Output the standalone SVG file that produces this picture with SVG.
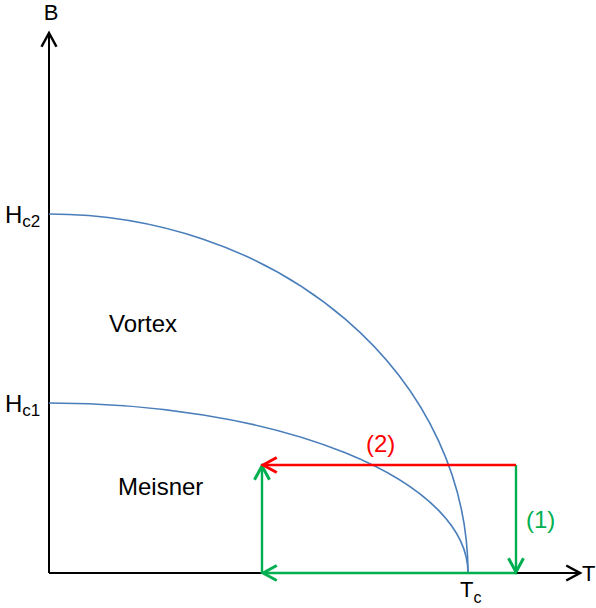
<svg xmlns="http://www.w3.org/2000/svg" width="596" height="608" viewBox="0 0 596 608">
<defs>
<style>
.lbl{font-family:"Liberation Sans",Arial,sans-serif;font-size:24px;fill:#000}
.ax{stroke:#000;stroke-width:2;fill:none}
.curve{stroke:#4a7ebb;stroke-width:1.6;fill:none}
.g{stroke:#00b050;stroke-width:2.4;fill:none}
.r{stroke:#ff0000;stroke-width:2.4;fill:none}
</style>
<marker id="ak" markerUnits="userSpaceOnUse" markerWidth="20" markerHeight="20" viewBox="-13 -8 15 16" refX="0" refY="0" orient="auto"><path d="M-11,-6 L0,0 L-11,6" fill="none" stroke="#000" stroke-width="2"/></marker>
<marker id="ag" markerUnits="userSpaceOnUse" markerWidth="20" markerHeight="20" viewBox="-13 -8 15 16" refX="0" refY="0" orient="auto"><path d="M-11,-6 L0,0 L-11,6" fill="none" stroke="#00b050" stroke-width="2.4"/></marker>
<marker id="ar" markerUnits="userSpaceOnUse" markerWidth="20" markerHeight="20" viewBox="-13 -8 15 16" refX="0" refY="0" orient="auto"><path d="M-11,-6 L0,0 L-11,6" fill="none" stroke="#ff0000" stroke-width="2.4"/></marker>
</defs>
<g id="axes">
<path class="ax" d="M49,573 L49,33" marker-end="url(#ak)"/>
<path class="ax" d="M49,573 L580,573" marker-end="url(#ak)"/>
<text class="lbl" x="51" y="20" text-anchor="middle" font-size="22" style="font-size:22px">B</text>
<text class="lbl" x="582" y="581" font-size="22" style="font-size:22px">T</text>
<text class="lbl" x="5" y="223">H<tspan style="font-size:17px" dy="4">c2</tspan></text>
<text class="lbl" x="5" y="412">H<tspan style="font-size:17px" dy="4">c1</tspan></text>
<text class="lbl" x="460" y="597" style="font-size:22px">T<tspan style="font-size:16px" dy="6">c</tspan></text>
</g>
<g id="curves">
<path class="curve" d="M49,214 A419,359 0 0 1 468,573"/>
<path class="curve" d="M49,403 A419,170 0 0 1 468,573"/>
</g>
<g id="regions">
<text class="lbl" x="109" y="332">Vortex</text>
<text class="lbl" x="118" y="495">Meisner</text>
</g>
<g id="connectors">
<path class="g" d="M516,573 L263,573" marker-end="url(#ag)"/>
<path class="g" d="M262,573 L262,466" marker-end="url(#ag)"/>
<path class="g" d="M516,465 L516,572" marker-end="url(#ag)"/>
<path class="r" d="M516,465 L263,465" marker-end="url(#ar)"/>
<text class="lbl" x="366" y="452" style="fill:#ff0000">(2)</text>
<text class="lbl" x="526" y="528" style="fill:#00b050">(1)</text>
</g>
</svg>
